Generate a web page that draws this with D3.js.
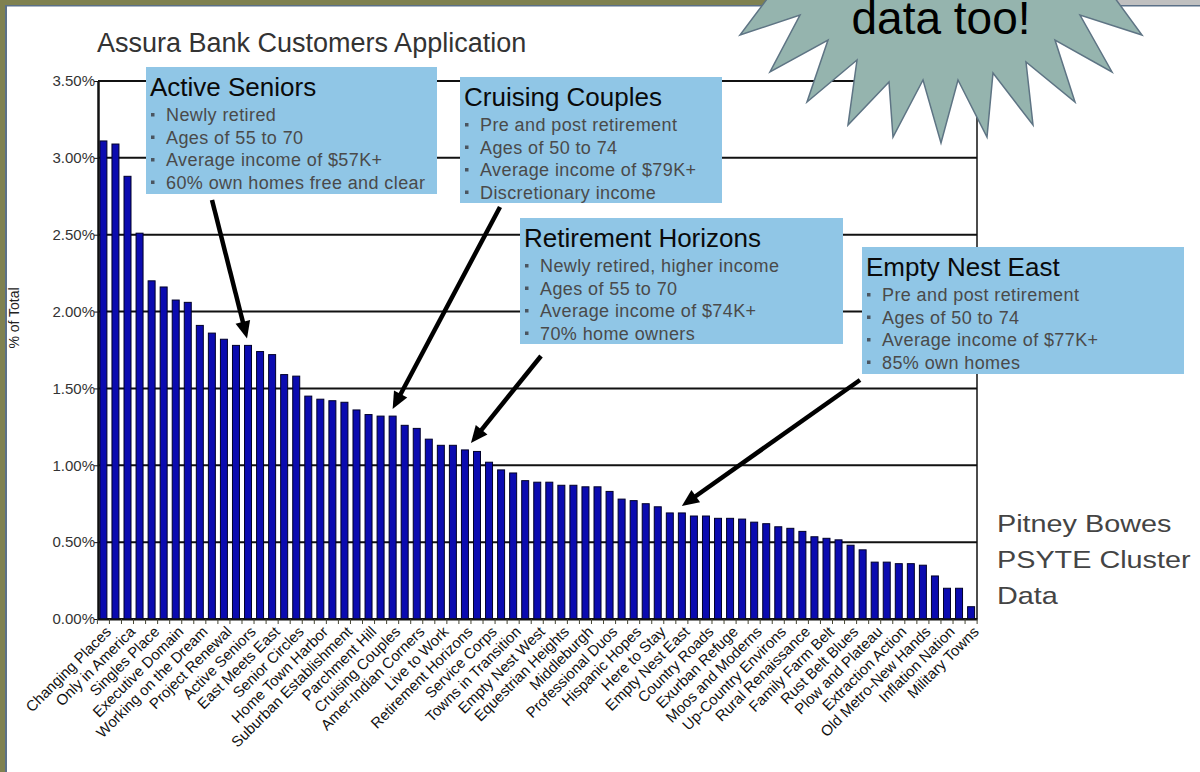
<!DOCTYPE html>
<html>
<head>
<meta charset="utf-8">
<script src="https://cdn.jsdelivr.net/npm/d3@7/dist/d3.min.js"></script>
<style>
  body { margin: 0; background: #fff; }
  svg { display: block; font-family: Arial, "Liberation Sans", sans-serif; }
</style>
</head>
<body>
<script>

// DATI DEL GRAFICO
//
var clusterLabels = [
  "Changing Places", "Only in America", "Singles Place", "Executive Domain",
  "Working on the Dream", "Project Renewal", "Active Seniors", "East Meets East",
  "Senior Circles", "Home Town Harbor", "Suburban Establishment", "Parchment Hill",
  "Cruising Couples", "Amer-Indian Corners", "Live to Work", "Retirement Horizons",
  "Service Corps", "Towns in Transition", "Empty Nest West", "Equestrian Heights",
  "Middleburgh", "Professional Duos", "Hispanic Hopes", "Here to Stay",
  "Empty Nest East", "Country Roads", "Exurban Refuge", "Moos and Moderns",
  "Up-Country Environs", "Rural Renaissance", "Family Farm Belt", "Rust Belt Blues",
  "Plow and Plateau", "Extraction Action", "Old Metro-New Hands", "Inflation Nation",
  "Military Towns"
];

// % of total, one per cluster (only every other cluster is labelled)
var shareValues = [
  3.11, 3.09, 2.88, 2.51, 2.20, 2.16, 2.075, 2.06, 1.91, 1.86,
  1.82, 1.78, 1.78, 1.74, 1.72, 1.59, 1.58, 1.45, 1.43, 1.42,
  1.41, 1.36, 1.33, 1.32, 1.32, 1.26, 1.24, 1.17, 1.13, 1.13,
  1.10, 1.09, 1.02, 0.97, 0.95, 0.90, 0.89, 0.89, 0.87, 0.87,
  0.86, 0.86, 0.83, 0.78, 0.77, 0.75, 0.73, 0.69, 0.69, 0.67,
  0.67, 0.655, 0.655, 0.65, 0.63, 0.62, 0.60, 0.59, 0.57, 0.535,
  0.525, 0.515, 0.48, 0.45, 0.37, 0.37, 0.36, 0.36, 0.35, 0.28,
  0.20, 0.20, 0.08
];

var yTicks = [0, 0.5, 1.0, 1.5, 2.0, 2.5, 3.0, 3.5];

// CALLOUT (target = bar index the arrow points to)
var calloutTitles = ["Active Seniors", "Cruising Couples", "Retirement Horizons", "Empty Nest East"];
var calloutBullets = [
  ["Newly retired", "Ages of 55 to 70", "Average income of $57K+", "60% own homes free and clear"],
  ["Pre and post retirement", "Ages of 50 to 74", "Average income of $79K+", "Discretionary income"],
  ["Newly retired, higher income", "Ages of 55 to 70", "Average income of $74K+", "70% home owners"],
  ["Pre and post retirement", "Ages of 50 to 74", "Average income of $77K+", "85% own homes"]
];
var calloutTargets = [12, 24, 30, 48];

var sourceLines = ["Pitney Bowes", "PSYTE Cluster", "Data"];

// VARIABILI PER DOM
//
var width = 1200;
var height = 772;

var svg = d3.select("body").append("svg")
  .attr("width", width)
  .attr("height", height);

// cornice della slide
svg.append("rect").attr("x", 0).attr("y", 0).attr("width", 6).attr("height", height).attr("fill", "#7f8150");
svg.append("rect").attr("x", 0).attr("y", 0).attr("width", 1110).attr("height", 6).attr("fill", "#7f8150");
svg.append("rect").attr("x", 1110).attr("y", 0).attr("width", 90).attr("height", 6).attr("fill", "#c0c0c0");
svg.append("rect").attr("x", 5).attr("y", 5).attr("width", 2).attr("height", height).attr("fill", "#5b7088");
svg.append("rect").attr("x", 5).attr("y", 5).attr("width", width).attr("height", 1.5).attr("fill", "#5b7088");

// SCALE
//
var plot = { left: 98, right: 977, top: 81, bottom: 619 };

var x = d3.scaleBand()
  .domain(d3.range(shareValues.length))
  .range([97.5, plot.right])
  .paddingInner(0.42)
  .paddingOuter(0.2);

var y = d3.scaleLinear()
  .domain([0, 3.5])
  .range([plot.bottom, plot.top]);

// titolo
svg.append("text")
  .attr("x", 97).attr("y", 52)
  .attr("font-size", 27).attr("fill", "#333")
  .text("Assura Bank Customers Application");

// etichetta asse Y
svg.append("text")
  .attr("transform", "translate(19,318) rotate(-90)")
  .attr("text-anchor", "middle")
  .attr("font-size", 14).attr("fill", "#222")
  .text("% of Total");

// GRIGLIA
//
svg.append("g").selectAll("line")
  .data(yTicks)
  .enter().append("line")
  .attr("x1", plot.left).attr("x2", plot.right)
  .attr("y1", function(d) { return y(d); })
  .attr("y2", function(d) { return y(d); })
  .attr("stroke", "#111").attr("stroke-width", 2);

svg.append("line")
  .attr("x1", plot.right).attr("x2", plot.right)
  .attr("y1", plot.top).attr("y2", plot.bottom)
  .attr("stroke", "#111").attr("stroke-width", 1.5);

// BARRE
//
svg.append("g").selectAll("rect")
  .data(shareValues)
  .enter().append("rect")
  .attr("x", function(d, i) { return x(i); })
  .attr("y", function(d) { return y(d); })
  .attr("width", x.bandwidth())
  .attr("height", function(d) { return plot.bottom - y(d); })
  .attr("fill", "#0b0bb0")
  .attr("stroke", "#00002a")
  .attr("stroke-width", 1);

// ASSE Y
//
var yAxis = svg.append("g")
  .attr("transform", "translate(" + plot.left + ",0)")
  .call(d3.axisLeft(y).tickValues(yTicks).tickSize(4).tickSizeOuter(0)
    .tickFormat(function(d) { return d.toFixed(2) + "%"; }));
yAxis.select(".domain").attr("stroke", "#111").attr("stroke-width", 2.5);
yAxis.selectAll(".tick line").attr("stroke", "#111");
yAxis.selectAll("text").attr("font-size", 15).attr("fill", "#333").attr("font-family", "Arial, 'Liberation Sans', sans-serif").attr("x", -3);

// ASSE X
//
var labelled = d3.range(0, shareValues.length, 2);
var xAxis = svg.append("g")
  .attr("transform", "translate(0," + plot.bottom + ")")
  .call(d3.axisBottom(x).tickValues(labelled).tickSize(0).tickSizeOuter(0)
    .tickFormat(function(d) { return clusterLabels[d / 2]; }));
xAxis.select(".domain").attr("stroke", "#111").attr("stroke-width", 2);
xAxis.selectAll("text")
  .attr("font-size", 15).attr("fill", "#111")
  .attr("font-family", "Arial, 'Liberation Sans', sans-serif")
  .attr("text-anchor", "end")
  .attr("x", 0).attr("y", 0).attr("dy", "0.35em")
  .attr("transform", "translate(5,10) rotate(-45)");

// tacche tra le categorie
svg.append("g").selectAll("line")
  .data(d3.range(shareValues.length + 1))
  .enter().append("line")
  .attr("x1", function(i) { return x.range()[0] + x.step() * (i + x.paddingOuter()) - x.step() * x.paddingInner() / 2; })
  .attr("x2", function(i) { return x.range()[0] + x.step() * (i + x.paddingOuter()) - x.step() * x.paddingInner() / 2; })
  .attr("y1", plot.bottom).attr("y2", plot.bottom + 5)
  .attr("stroke", "#443").attr("stroke-width", 1);

// CALLOUT
//
var boxes = [
  { left: 146, top: 67, w: 291, h: 127, from: [212, 200], dx: -1 },
  { left: 460, top: 77, w: 262, h: 126, from: [500, 207], dx: 0 },
  { left: 520, top: 218, w: 323, h: 126, from: [541, 356], dx: 6 },
  { left: 862, top: 247, w: 322, h: 127, from: [860, 380], dx: 0 }
];

var callouts = svg.append("g").selectAll("g")
  .data(boxes)
  .enter().append("g")
  .attr("transform", function(d) { return "translate(" + d.left + "," + d.top + ")"; });

callouts.append("rect")
  .attr("width", function(d) { return d.w; })
  .attr("height", function(d) { return d.h; })
  .attr("fill", "#90c6e6");

callouts.append("text")
  .attr("x", 4).attr("y", 29)
  .attr("font-size", 26).attr("fill", "#0a0a0a")
  .text(function(d, i) { return calloutTitles[i]; });

callouts.each(function(d, i) {
  var g = d3.select(this);
  calloutBullets[i].forEach(function(line, j) {
    var by = 54 + j * 22.5;
    g.append("rect")
      .attr("x", 5).attr("y", by - 8)
      .attr("width", 3.5).attr("height", 3.5)
      .attr("fill", "#4a5560");
    g.append("text")
      .attr("x", 20).attr("y", by)
      .attr("font-size", 18).attr("fill", "#4a4a4a")
      .attr("letter-spacing", 0.4)
      .text(line);
  });
});

// FRECCE
//
function arrowPath(x0, y0, x1, y1) {
  var ang = Math.atan2(y1 - y0, x1 - x0);
  var len = 17, half = 7.5;
  var bx = x1 - len * Math.cos(ang), by = y1 - len * Math.sin(ang);
  var px = -Math.sin(ang), py = Math.cos(ang);
  return "M" + x1 + "," + y1 +
    "L" + (bx + px * half) + "," + (by + py * half) +
    "L" + (bx - px * half) + "," + (by - py * half) + "Z";
}

var arrows = svg.append("g");
boxes.forEach(function(b, i) {
  var t = calloutTargets[i];
  var tx = x(t) + x.bandwidth() / 2 + b.dx;
  var ty = y(shareValues[t]) - 7;
  var ang = Math.atan2(ty - b.from[1], tx - b.from[0]);
  arrows.append("line")
    .attr("x1", b.from[0]).attr("y1", b.from[1])
    .attr("x2", tx - 12 * Math.cos(ang)).attr("y2", ty - 12 * Math.sin(ang))
    .attr("stroke", "#000").attr("stroke-width", 4.5);
  arrows.append("path")
    .attr("d", arrowPath(b.from[0], b.from[1], tx, ty))
    .attr("fill", "#000");
});

// testo fonte
var src = svg.append("g").attr("transform", "translate(997,0)");
src.selectAll("text")
  .data(sourceLines)
  .enter().append("text")
  .attr("transform", function(d, i) { return "translate(0," + (532 + i * 36) + ") scale(1.2,1)"; })
  .attr("font-size", 24).attr("fill", "#444")
  .text(function(d) { return d; });

// STELLA "data too!"
//
var starPoints = [
  [880, -70], [785, -25], [800, 15], [740, 35], [800, 15], [770, 72], [828, 40], [807, 102],
  [857, 60], [848, 125], [889, 82], [893, 137], [923, 80], [941, 143], [958, 80],
  [987, 137], [993, 73], [1033, 125], [1026, 62], [1075, 102], [1055, 40],
  [1112, 72], [1080, 15], [1142, 35], [1098, -25], [1000, -70]
];
starPoints.splice(2, 1);
svg.append("path")
  .attr("d", d3.line()(starPoints) + "Z")
  .attr("fill", "#95b4ae")
  .attr("stroke", "#5e7484")
  .attr("stroke-width", 1.5)
  .attr("stroke-linejoin", "miter");

svg.append("text")
  .attr("x", 941).attr("y", 34)
  .attr("text-anchor", "middle")
  .attr("font-size", 46).attr("fill", "#000")
  .text("data too!");

</script>
</body>
</html>
